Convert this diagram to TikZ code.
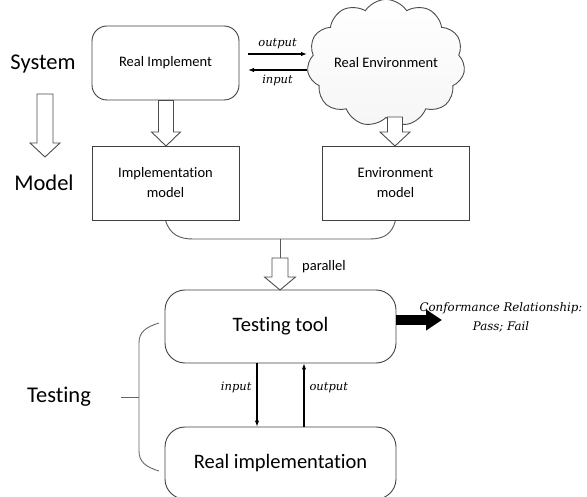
\documentclass[tikz,border=0pt]{standalone}
\usepackage{fontspec}
\setmainfont{Carlito}[Ligatures={NoCommon,NoContextual}]
\usetikzlibrary{shapes.symbols,arrows.meta,calc}
\newfontfamily\labfont{DejaVu Serif}
\tikzset{
  box/.style={draw=black!75, line width=0.9pt, minimum width=147pt, minimum height=74pt, align=center, font=\fontsize{14.5}{20}\selectfont, inner sep=2pt},
  rbox/.style={box, rounded corners=15pt},
  bigbox/.style={draw=black!75, line width=0.9pt, rounded corners=20pt, minimum width=231pt, font=\fontsize{20.5}{24}\selectfont},
  side/.style={font=\fontsize{22.5}{26}\selectfont},
  hollow/.style={draw=black!70, line width=0.9pt, fill=white, line join=miter},
  lab/.style={font=\labfont\itshape\fontsize{11.5}{14}\selectfont, inner sep=1pt},
  conn/.style={draw=black!65, line width=0.9pt},
  thin/.style={draw=black, line width=1.1pt, -{Latex[length=6pt,width=4.5pt]}},
}
\newcommand\hollowdown[6]{%
  \draw[hollow] ({#1-#5},{#2}) -- ({#1-#5},{#3}) -- ({#1-#6},{#3}) -- ({#1},{#4}) -- ({#1+#6},{#3}) -- ({#1+#5},{#3}) -- ({#1+#5},{#2}) -- cycle;}
\begin{document}
\begin{tikzpicture}[x=1pt,y=-1pt]
\useasboundingbox (0,0) rectangle (587,497);
% side labels
\node[side] (sys) at (43,64) {System};
\node[side] (mod) at (44,183) {Model};
\node[side] (tst) at (59,397) {Testing};
% boxes
\node[rbox] (ri) at (165.5,63) {Real Implement};
\node[box] (im) at (165.5,183) {Implementation\\model};
\node[box] (em) at (395.5,183) {Environment\\model};
\node[cloud, cloud puffs=11, cloud puff arc=115, aspect=1.35, draw=black!70, line width=0.9pt,
  top color=white, bottom color=blue!3!gray!7, minimum width=147pt, minimum height=110pt,
  font=\fontsize{14.5}{18}\selectfont, inner sep=0pt] (re) at (386,63) {Real Environment};
\node[bigbox, minimum height=73pt] (tt) at (280.5,326.5) {Testing tool};
\node[bigbox, minimum height=72pt] (rimp) at (280.5,463) {Real implementation};
% hollow arrows
\hollowdown{45}{94}{143}{157}{8}{15}
\hollowdown{166}{100.5}{132}{146}{7.5}{14.5}
\hollowdown{395}{117}{132}{146}{7.5}{15}
\hollowdown{280}{258}{277}{290}{8}{15.5}
% output / input between real implement and real environment
\coordinate (oa) at (248,54);
\coordinate (ob) at (307,54);
\coordinate (ia) at (307,70);
\coordinate (ib) at (248,70);
\draw[thin, line width=1.4pt] (oa) -- (ob) node[lab, midway, above=3pt] {output};
\draw[thin, line width=1.4pt] (ia) -- (ib) node[lab, midway, below=3pt] {input};
% merging connector
\coordinate (jn) at (280,239);
\coordinate (jd) at (280,258);
\draw[conn] (im.south) .. controls (170,235) and (180,239) .. (193,239) -- (370,239)
  .. controls (384,239) and (392,234) .. (em.south);
\draw[conn] (jn) -- (jd);
\node[font=\fontsize{14.5}{18}\selectfont, anchor=west, inner sep=0pt] (par) at (302,267) {parallel};
% testing tool <-> real implementation
\draw[thin] (tt.south -| 257,0) -- (rimp.north -| 257,0) node[lab, pos=0.38, left=4pt] {input};
\draw[thin] (rimp.north -| 304,0) -- (tt.south -| 304,0) node[lab, pos=0.62, right=4pt] {output};
% conformance
\coordinate (ca) at (396,320);
\coordinate (cb) at (442,320);
\draw[line width=10pt, -{Triangle[length=16pt,width=20pt]}] (ca) -- (cb);
\node[lab, align=center, font=\labfont\itshape\fontsize{11.8}{19}\selectfont] (conf) at (501,317) {Conformance Relationship:\\Pass; Fail};
% brace
\coordinate (bt) at (159,323);
\coordinate (bb) at (159,471);
\coordinate (bm) at (121,397);
\draw[conn, draw=black!60] (bt) .. controls (146,327) and (139,332) .. (139,343) -- (139,451)
  .. controls (139,462) and (146,467) .. (bb);
\draw[conn, draw=black!60] (bm) -- (139,397);
\end{tikzpicture}
\end{document}
